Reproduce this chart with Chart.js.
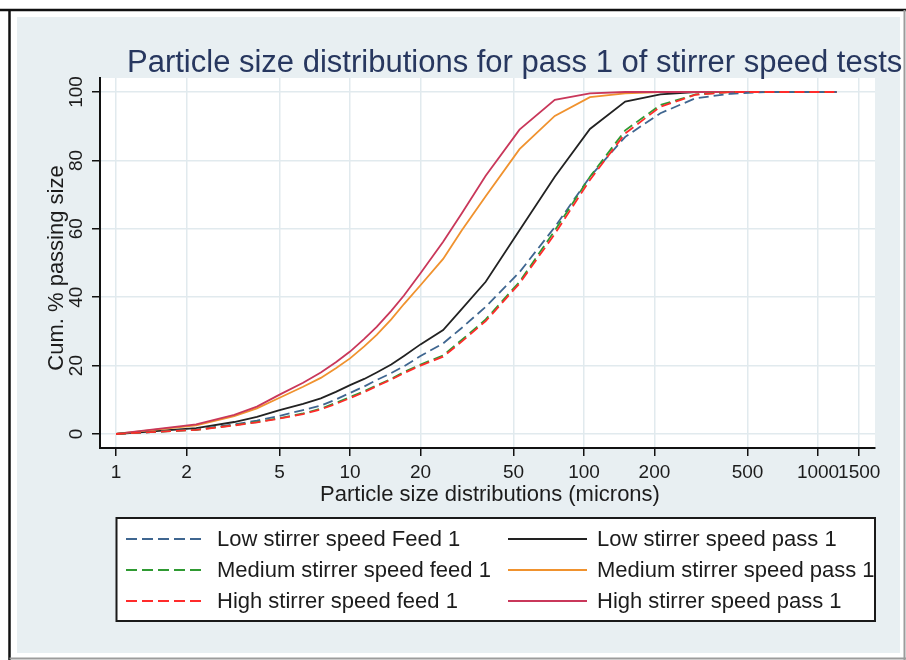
<!DOCTYPE html>
<html>
<head>
<meta charset="utf-8">
<title>Particle size distributions</title>
<script src="https://cdn.jsdelivr.net/npm/chart.js@4.4.1/dist/chart.umd.min.js"></script>
<style>
  html, body { margin: 0; padding: 0; background: #fff; }
  canvas { display: block; }
</style>
</head>
<body>
<canvas id="psd" width="906" height="660"></canvas>
<script>
// sieve sizes in microns, shared by every curve
const sizes = [1, 2.2, 3.2, 4, 5, 6.3, 7.5, 8.7, 10, 11.5, 13, 15, 17, 20, 25, 30, 38, 53, 75, 106, 150, 212, 300, 425, 600, 850, 1200]

// cumulative % passing at each size
const lowFeed  = [0, 1.3, 2.8, 3.9, 5.3, 7.0, 8.3, 10.1, 12.0, 13.9, 15.8, 17.8, 19.8, 22.8, 26.5, 31.0, 37.2, 47.3, 60.5, 75.2, 86.9, 93.8, 98.2, 99.5, 100, 100, 100]
const medFeed  = [0, 1.2, 2.6, 3.5, 4.6, 6.0, 7.4, 9.1, 10.8, 12.5, 14.2, 16.1, 18.1, 20.3, 23.0, 27.5, 33.5, 44.5, 59.5, 75.2, 88.8, 96.2, 99.3, 100, 100, 100, 100]
const highFeed = [0, 1.2, 2.5, 3.4, 4.5, 5.8, 7.2, 8.8, 10.5, 12.2, 14.0, 15.9, 17.8, 20.0, 22.6, 27.0, 33.0, 44.0, 58.5, 74.3, 87.9, 95.7, 99.2, 100, 100, 100, 100]
const lowPass  = [0, 1.7, 3.5, 5.0, 7.0, 8.8, 10.4, 12.3, 14.3, 16.1, 18.0, 20.3, 22.8, 26.2, 30.4, 36.5, 44.5, 59.6, 75.2, 89.2, 97.2, 99.3, 100, 100, 100, 100, 100]
const medPass  = [0, 2.5, 5.2, 7.5, 10.6, 13.8, 16.4, 19.2, 22.1, 25.6, 29.0, 33.5, 38.0, 43.5, 51.2, 59.5, 69.5, 83.3, 93.0, 98.5, 99.6, 100, 100, 100, 100, 100, 100]
const highPass = [0, 2.8, 5.6, 8.0, 11.5, 15.0, 18.0, 21.0, 24.1, 27.8, 31.3, 36.0, 40.5, 47.0, 56.2, 64.5, 75.5, 89.0, 97.7, 99.6, 100, 100, 100, 100, 100, 100, 100]

const seriesNames = [
  'Low stirrer speed Feed 1', 'Medium stirrer speed feed 1', 'High stirrer speed feed 1',
  'Low stirrer speed pass 1', 'Medium stirrer speed pass 1', 'High stirrer speed pass 1'
]

const xTicks = [1, 2, 5, 10, 20, 50, 100, 200, 500, 1000, 1500]
const yTicks = [0, 20, 40, 60, 80, 100]

const chartTitle = 'Particle size distributions for pass 1 of stirrer speed tests'
const xTitle = 'Particle size distributions (microns)'
const yTitle = 'Cum. % passing size'

const FONT = "'Liberation Sans', Arial, Helvetica, sans-serif"
const TEXT = '#1c1c1c'
Chart.defaults.font.family = FONT

function pts(ys) {
  return sizes.map((s, i) => ({ x: s, y: ys[i] }))
}

function curve(label, ys, color, dashed, order) {
  return {
    label: label,
    data: pts(ys),
    borderColor: color,
    backgroundColor: color,
    borderWidth: 1.8,
    borderDash: dashed ? [10, 5] : [],
    pointRadius: 0,
    tension: 0,
    fill: false,
    order: order
  }
}

// page frame, grey graph region and white plot region
const backdrop = {
  id: 'backdrop',
  beforeDraw(chart) {
    const { ctx, chartArea: a } = chart
    ctx.save()
    ctx.fillStyle = '#fff'
    ctx.fillRect(0, 0, chart.width, chart.height)
    ctx.fillStyle = '#e8eff2'
    ctx.fillRect(17, 17, 883, 636)
    ctx.fillStyle = '#fff'
    ctx.fillRect(a.left, a.top, a.right - a.left, a.bottom - a.top)

    ctx.strokeStyle = '#111'
    ctx.lineWidth = 2.5
    ctx.beginPath()
    ctx.moveTo(0, 10); ctx.lineTo(906, 10)
    ctx.moveTo(9.5, 10); ctx.lineTo(9.5, 660)
    ctx.stroke()
    ctx.strokeStyle = '#9c9c9c'
    ctx.lineWidth = 2
    ctx.beginPath()
    ctx.moveTo(9.5, 658.5); ctx.lineTo(906, 658.5)
    ctx.moveTo(904.5, 10); ctx.lineTo(904.5, 660)
    ctx.stroke()
    ctx.restore()
  },
  afterDraw(chart) {
    const { ctx } = chart
    const ys = chart.scales.y
    ctx.save()

    // title
    ctx.fillStyle = '#27375f'
    ctx.font = '31px ' + FONT
    ctx.textAlign = 'left'
    ctx.textBaseline = 'middle'
    ctx.fillText(chartTitle, 127, 63)

    // x axis title
    ctx.fillStyle = TEXT
    ctx.font = '22px ' + FONT
    ctx.textAlign = 'center'
    ctx.fillText(xTitle, 490, 495)

    // y axis title and tick labels, both turned on their side
    ctx.save()
    ctx.translate(57, 268)
    ctx.rotate(-Math.PI / 2)
    ctx.fillText(yTitle, 0, 0)
    ctx.restore()

    ctx.font = '19px ' + FONT
    ys.ticks.forEach(t => {
      ctx.save()
      ctx.translate(77, ys.getPixelForValue(t.value))
      ctx.rotate(-Math.PI / 2)
      ctx.fillText(String(t.value), 0, 0)
      ctx.restore()
    })

    // legend: feeds in the left column, passes in the right
    const box = { x: 116.5, y: 518, w: 758.5, h: 103 }
    ctx.fillStyle = '#fff'
    ctx.fillRect(box.x, box.y, box.w, box.h)
    const rows = [539, 570, 601]
    const cols = [{ l0: 126, l1: 204, tx: 217 }, { l0: 508, l1: 587, tx: 597 }]
    chart.data.datasets.forEach((ds, i) => {
      const c = cols[Math.floor(i / 3)]
      const y = rows[i % 3]
      ctx.strokeStyle = ds.borderColor
      ctx.lineWidth = 1.8
      ctx.setLineDash(ds.borderDash.length ? [11, 5] : [])
      ctx.beginPath()
      ctx.moveTo(c.l0, y); ctx.lineTo(c.l1, y)
      ctx.stroke()
      ctx.setLineDash([])
      ctx.fillStyle = TEXT
      ctx.font = '22px ' + FONT
      ctx.textAlign = 'left'
      ctx.textBaseline = 'middle'
      ctx.fillText(ds.label, c.tx, y + 1)
    })
    ctx.strokeStyle = '#1a1a1a'
    ctx.lineWidth = 2
    ctx.strokeRect(box.x, box.y, box.w, box.h)
    ctx.restore()
  }
}

const gridColor = '#e1eaee'

const ctx = document.getElementById('psd').getContext('2d')
const psdChart = new Chart(ctx, {
  type: 'line',
  data: {
    datasets: [
      curve(seriesNames[0], lowFeed, '#3f6690', true, 2),
      curve(seriesNames[1], medFeed, '#2f9a32', true, 1),
      curve(seriesNames[2], highFeed, '#ff2b2b', true, 0),
      curve(seriesNames[3], lowPass, '#222222', false, 5),
      curve(seriesNames[4], medPass, '#f0922e', false, 4),
      curve(seriesNames[5], highPass, '#c9375a', false, 3)
    ]
  },
  options: {
    responsive: false,
    animation: false,
    events: [],
    layout: { padding: { left: 0, right: 31, top: 78, bottom: 152 } },
    plugins: {
      legend: { display: false },
      title: { display: false },
      tooltip: { enabled: false }
    },
    scales: {
      x: {
        type: 'logarithmic',
        min: 0.854,
        max: 1752,
        afterBuildTicks(scale) {
          scale.ticks = xTicks.map(v => ({ value: v }))
        },
        afterFit(scale) {
          scale.height = 60
          scale.paddingLeft = scale.paddingRight = scale.paddingTop = scale.paddingBottom = 0
        },
        grid: { color: gridColor, lineWidth: 1.5, tickColor: '#111', tickLength: 8, tickWidth: 1.5 },
        border: { display: true, color: '#111', width: 2 },
        ticks: {
          autoSkip: false,
          maxRotation: 0,
          minRotation: 0,
          padding: 5,
          color: TEXT,
          font: { size: 19 },
          callback: v => String(v)
        }
      },
      y: {
        type: 'linear',
        min: -4.1,
        max: 104.1,
        afterBuildTicks(scale) {
          scale.ticks = yTicks.map(v => ({ value: v }))
        },
        afterFit(scale) {
          scale.width = 100
          scale.paddingLeft = scale.paddingRight = scale.paddingTop = scale.paddingBottom = 0
        },
        grid: { color: gridColor, lineWidth: 1.5, tickColor: '#111', tickLength: 8, tickWidth: 1.5 },
        border: { display: true, color: '#111', width: 2 },
        ticks: { display: false }
      }
    }
  },
  plugins: [backdrop]
})
</script>
</body>
</html>
